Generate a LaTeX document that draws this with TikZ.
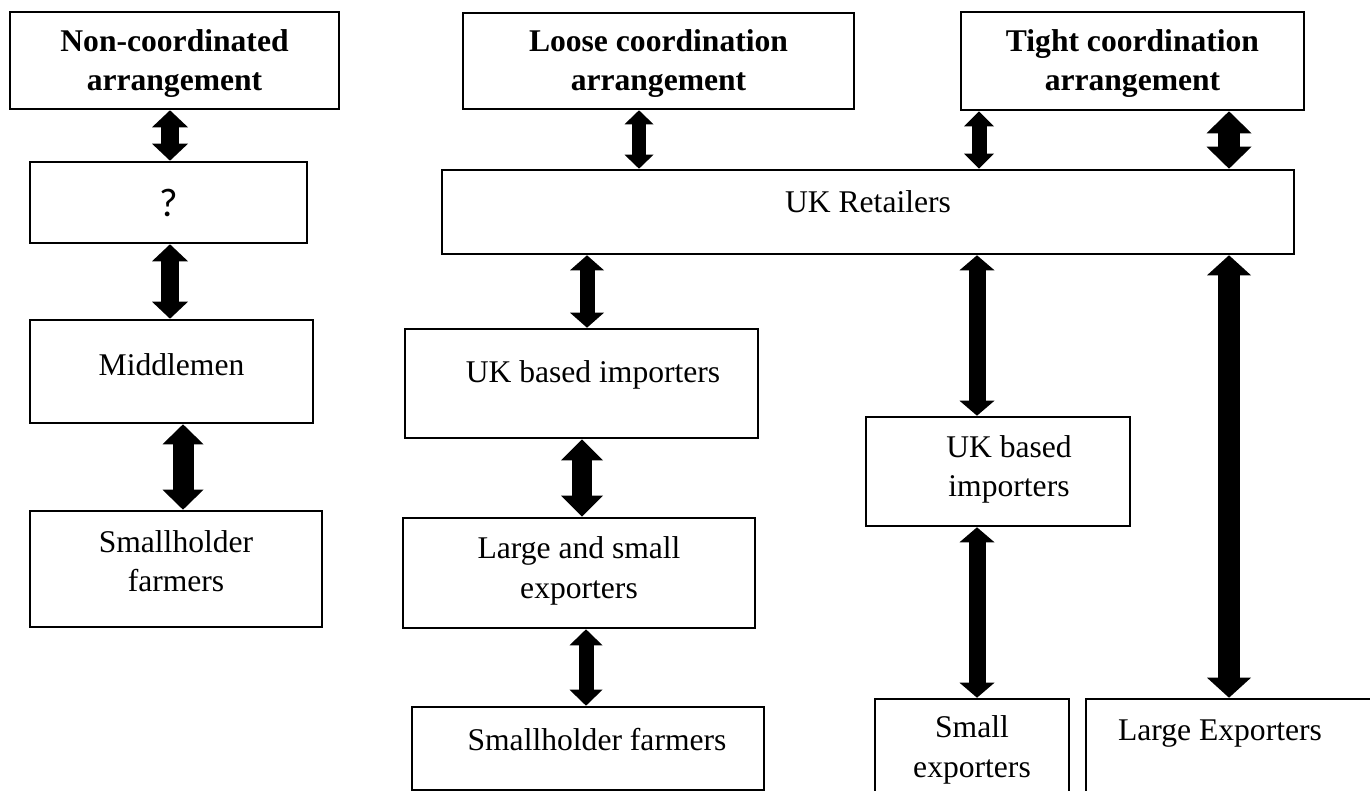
\documentclass[tikz,border=0pt]{standalone}
\usepackage{fontspec}
\setmainfont{Liberation Serif}
\newfontfamily\qfont{Carlito}
\usetikzlibrary{arrows.meta}

\begin{document}
\begin{tikzpicture}[x=1pt,y=-1pt,
 box/.style={draw,line width=2.6pt,inner sep=0pt},
 txt/.style={font=\fontsize{31.6}{39.5}\selectfont,align=center,inner sep=0pt},
 hdr/.style={font=\fontsize{31.6}{39}\selectfont\bfseries,align=center,inner sep=0pt},
 link/.style n args={3}{line width=#1pt,{Triangle[width=#2pt,length=#3pt,line width=0pt]}-{Triangle[width=#2pt,length=#3pt,line width=0pt]}}]
 \useasboundingbox (0,0) rectangle (1370,791);
 % non-coordinated column
 \node[box,minimum width=329,minimum height=97] (noncoord) at (174.5,60.5) {};
 \node[hdr] (noncoordt) at ([yshift=-3]noncoord) {Non-coordinated\\arrangement};
 \node[box,minimum width=277,minimum height=81] (q) at (168.5,202.5) {\qfont\fontsize{40}{48}\selectfont ?};
 \node[box,minimum width=283,minimum height=103] (mid) at (171.5,371.5) {};
 \node[txt] (midt) at ([yshift=7]mid) {Middlemen};
 \node[box,minimum width=292,minimum height=116] (farmL) at (176,569) {};
 \node[txt] (farmLt) at ([yshift=8]farmL) {Smallholder\\farmers};
 % loose and tight coordination
 \node[box,minimum width=391,minimum height=96] (loose) at (658.5,61) {};
 \node[hdr] (looset) at ([yshift=-3]loose) {Loose coordination\\arrangement};
 \node[box,minimum width=343,minimum height=98] (tight) at (1132.5,61) {};
 \node[hdr] (tightt) at ([yshift=-3]tight) {Tight coordination\\arrangement};
 \node[box,minimum width=852,minimum height=84] (retail) at (868,212) {};
 \node[txt] (retailt) at ([yshift=10]retail) {UK Retailers};
 \node[box,minimum width=353,minimum height=109] (impL) at (581.5,383.5) {};
 \node[txt] (impLt) at ([xshift=11.5,yshift=9]impL) {UK based importers};
 \node[box,minimum width=352,minimum height=110] (lsexp) at (579,573) {};
 \node[txt] (lsexpt) at ([yshift=2]lsexp) {Large and small\\exporters};
 \node[box,minimum width=352,minimum height=83] (farmM) at (588,748.5) {};
 \node[txt] (farmMt) at ([xshift=9,yshift=9]farmM) {Smallholder farmers};
 \node[box,minimum width=264,minimum height=109] (impR) at (998,471.5) {};
 \node[txt] (impRt) at ([xshift=11,yshift=2]impR) {UK based\\importers};
 \node[box,minimum width=194,minimum height=132] (smallexp) at (972,765) {};
 \node[txt] (smallexpt) at ([yshift=-52]smallexp.north) {Small\\exporters};
 \node[box,minimum width=308,minimum height=132] (largeexp) at (1240,765) {};
 \node[txt] (largeexpt) at ([xshift=-20,yshift=-36]largeexp.north) {Large Exporters};
 % arrows
 \draw[link={18}{36}{17}] (170,0 |- noncoord.south) -- (170,0 |- q.north);
 \draw[link={18}{36}{17}] (170,0 |- q.south) -- (170,0 |- mid.north);
 \draw[link={21}{41}{20}] (183,0 |- mid.south) -- (183,0 |- farmL.north);
 \draw[link={14}{29}{14}] (639,0 |- loose.south) -- (639,0 |- retail.north);
 \draw[link={15}{34}{15}] (587,0 |- retail.south) -- (587,0 |- impL.north);
 \draw[link={20}{42}{21}] (582,0 |- impL.south) -- (582,0 |- lsexp.north);
 \draw[link={15}{33}{16}] (586,0 |- lsexp.south) -- (586,0 |- farmM.north);
 \draw[link={15}{30}{15}] (979,0 |- tight.south) -- (979,0 |- retail.north);
 \draw[link={22}{45}{22}] (1229,0 |- tight.south) -- (1229,0 |- retail.north);
 \draw[link={17}{35}{15}] (977,0 |- retail.south) -- (977,0 |- impR.north);
 \draw[link={22}{44}{20}] (1229,0 |- retail.south) -- (1229,0 |- largeexp.north);
 \draw[link={17}{35}{15}] (977,0 |- impR.south) -- (977,0 |- smallexp.north);
\end{tikzpicture}
\end{document}
